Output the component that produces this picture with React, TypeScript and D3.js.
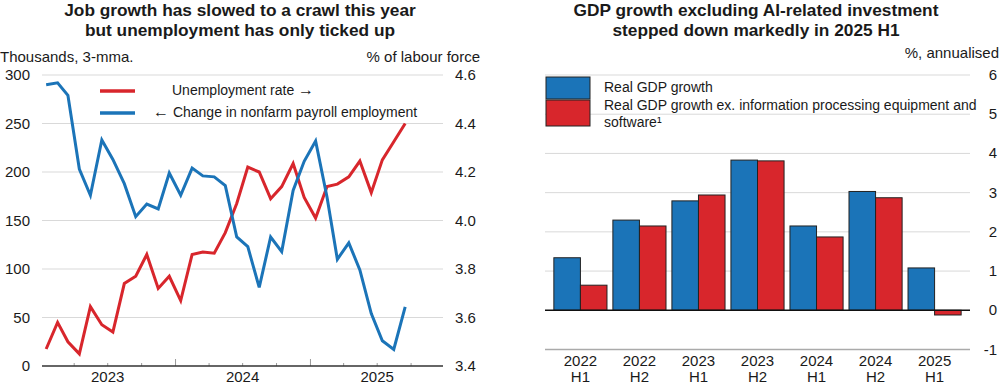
import React from 'react'
import * as d3 from 'd3'

// monthly, Jan 2023 - Sep 2025
const startYear = 2023
const unemployment = [
  3.47, 3.58, 3.5, 3.45, 3.645, 3.57, 3.54, 3.74, 3.77, 3.86, 3.72, 3.77,
  3.67, 3.86, 3.87, 3.865, 3.95, 4.07, 4.22, 4.2, 4.09, 4.14, 4.235, 4.095,
  4.01, 4.14, 4.15, 4.18, 4.245, 4.115, 4.25, 4.325, 4.4,
]
const payrolls = [
  290, 292, 279, 203, 176, 233, 213, 188, 154, 167, 162, 199,
  176, 204, 196, 195, 186, 133, 123, 81, 133, 118, 181, 211,
  232, 174, 110, 127, 99, 54, 26, 17, 61,
]
const leftTicks = [0, 50, 100, 150, 200, 250, 300]
const rightTicks = [3.4, 3.6, 3.8, 4.0, 4.2, 4.4, 4.6]
const yearLabels = [2023, 2024, 2025]

const periods = ['2022 H1', '2022 H2', '2023 H1', '2023 H2', '2024 H1', '2024 H2', '2025 H1']
const gdp = [1.34, 2.3, 2.79, 3.83, 2.15, 3.03, 1.08]
const gdpExAI = [0.64, 2.15, 2.94, 3.81, 1.87, 2.87, -0.12]
const gdpTicks = [-1, 0, 1, 2, 3, 4, 5, 6]

const RED = '#d8262c'
const BLUE = '#1b74b8'
const GRID = '#d9d9d9'
const FONT = '"Liberation Sans", Arial, sans-serif'

function JobsChart() {
  const x = d3.scaleTime()
    .domain([new Date(2023, 0, 1), new Date(2026, 0, 1)])
    .range([41, 445])
  const yL = d3.scaleLinear().domain([0, 300]).range([366, 75])
  const yR = d3.scaleLinear().domain([3.4, 4.6]).range([366, 75])
  const dates = unemployment.map((_, i) => new Date(startYear, i, 15))

  const urLine = d3.line<number>().x((_, i) => x(dates[i])).y(d => yR(d))
  const nfpLine = d3.line<number>().x((_, i) => x(dates[i])).y(d => yL(d))

  const quarters = d3.timeMonth.every(3)!.range(new Date(2023, 3, 1), new Date(2026, 0, 1))

  return (
    <g>
      <text x={240} y={16} textAnchor="middle" fontWeight="bold" fontSize={17.3}>Job growth has slowed to a crawl this year</text>
      <text x={240} y={36} textAnchor="middle" fontWeight="bold" fontSize={17.3}>but unemployment has only ticked up</text>
      <text x={0} y={62} fontSize={15}>Thousands, 3-mma.</text>
      <text x={480} y={62} fontSize={15} textAnchor="end">% of labour force</text>

      {leftTicks.slice(1).map(t => (
        <line key={t} x1={42} x2={443} y1={yL(t)} y2={yL(t)} stroke={GRID} strokeWidth={1} />
      ))}
      {leftTicks.map(t => (
        <text key={t} x={30} y={yL(t) + 5} textAnchor="end" fontSize={15}>{t}</text>
      ))}
      {rightTicks.map(t => (
        <text key={t} x={455} y={yR(t) + 5} fontSize={15}>{t.toFixed(1)}</text>
      ))}

      {quarters.map(d => {
        const major = d.getMonth() === 0
        return <line key={+d} x1={x(d)} x2={x(d)} y1={366} y2={major ? 359 : 363} stroke="#999" />
      })}
      <line x1={42} x2={443} y1={366} y2={366} stroke="#333" strokeWidth={1.5} />
      {yearLabels.map(yr => (
        <text key={yr} x={x(new Date(yr, 6, 1))} y={382} textAnchor="middle" fontSize={15}>{yr}</text>
      ))}

      <path d={urLine(unemployment)!} fill="none" stroke={RED} strokeWidth={3} />
      <path d={nfpLine(payrolls)!} fill="none" stroke={BLUE} strokeWidth={3} />

      <line x1={100} x2={135} y1={91} y2={91} stroke={RED} strokeWidth={3.5} />
      <line x1={100} x2={135} y1={113} y2={113} stroke={BLUE} strokeWidth={3.5} />
      <text x={172} y={95} fontSize={14}>Unemployment rate <tspan fontSize={16}>→</tspan></text>
      <text x={153} y={117} fontSize={14}><tspan fontSize={16}>←</tspan> Change in nonfarm payroll employment</text>
    </g>
  )
}

function GdpChart() {
  const x = d3.scaleBand().domain(periods).range([545, 970]).paddingInner(0.1).paddingOuter(0.15)
  const xs = d3.scaleBand().domain(['gdp', 'ex']).range([0, x.bandwidth()])
  const y = d3.scaleLinear().domain([-1, 6]).range([349.5, 75])
  const series = [
    { key: 'gdp', values: gdp, color: BLUE },
    { key: 'ex', values: gdpExAI, color: RED },
  ]

  return (
    <g>
      <text x={756} y={16} textAnchor="middle" fontWeight="bold" fontSize={17.3}>GDP growth excluding AI-related investment</text>
      <text x={756} y={36} textAnchor="middle" fontWeight="bold" fontSize={17.3}>stepped down markedly in 2025 H1</text>
      <text x={999} y={58} textAnchor="end" fontSize={15}>%, annualised</text>

      {gdpTicks.filter(t => t > 0).map(t => (
        <line key={t} x1={545} x2={970} y1={y(t)} y2={y(t)} stroke={GRID} />
      ))}
      <line x1={545} x2={970} y1={y(-1)} y2={y(-1)} stroke="#aaa" strokeWidth={1.5} />
      {gdpTicks.map(t => (
        <text key={t} x={997} y={y(t) + 5} textAnchor="end" fontSize={15}>{t}</text>
      ))}

      {series.map(s => s.values.map((v, i) => (
        <rect key={s.key + i}
          x={x(periods[i])! + xs(s.key)!}
          y={y(Math.max(0, v))}
          width={xs.bandwidth()}
          height={Math.abs(y(v) - y(0))}
          fill={s.color} stroke="#222" strokeWidth={1} />
      )))}
      <line x1={545} x2={970} y1={y(0)} y2={y(0)} stroke="#111" strokeWidth={1.5} />

      {periods.map(p => {
        const [yr, h] = p.split(' ')
        const cx = x(p)! + x.bandwidth() / 2
        return (
          <g key={p}>
            <text x={cx} y={366} textAnchor="middle" fontSize={15}>{yr}</text>
            <text x={cx} y={382} textAnchor="middle" fontSize={15}>{h}</text>
          </g>
        )
      })}

      <rect x={546} y={77} width={44} height={22} fill={BLUE} stroke="#222" />
      <rect x={546} y={100} width={44} height={26} fill={RED} stroke="#222" />
      <text x={604} y={92} fontSize={14}>Real GDP growth</text>
      <text x={604} y={110} fontSize={14}>Real GDP growth ex. information processing equipment and</text>
      <text x={604} y={127} fontSize={14}>software¹</text>
    </g>
  )
}

export default function App() {
  return (
    <svg width={1000} height={385} style={{ position: 'absolute', left: 0, top: 0, background: '#fff' }}
      fontFamily={FONT} fill="#1a1a1a">
      <JobsChart />
      <GdpChart />
    </svg>
  )
}
